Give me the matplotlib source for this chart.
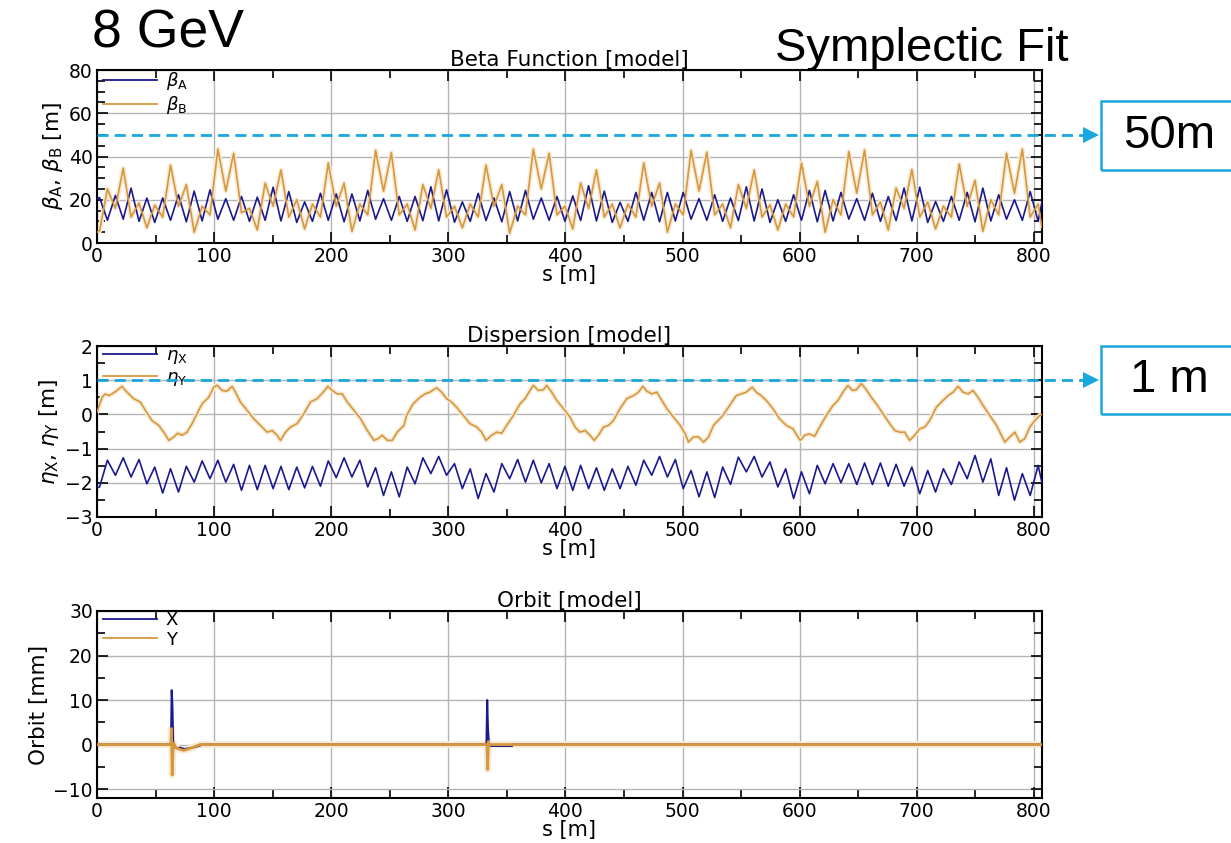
import matplotlib
matplotlib.use("Agg")
import matplotlib.pyplot as plt
from matplotlib.lines import Line2D
from matplotlib.patches import Rectangle
from matplotlib.ticker import MultipleLocator
import matplotlib.transforms as mtransforms

# ---------------- data ----------------
s_grid = [0.0, 2.2, 8.9, 15.7, 22.4, 29.1, 35.9, 42.6, 49.3, 56.1, 62.8, 69.6, 76.3, 83.0, 89.8, 96.5,
          103.2, 110.0, 116.7, 123.4, 130.2, 136.9, 143.6, 150.4, 157.1, 163.8, 170.6, 177.3, 184.0,
          190.8, 197.5, 204.3, 211.0, 217.7, 224.5, 231.2, 237.9, 244.7, 251.4, 258.1, 264.9, 271.6,
          278.3, 285.1, 291.8, 298.5, 305.3, 312.0, 318.7, 325.5, 332.2, 339.0, 345.7, 352.4, 359.2,
          365.9, 372.6, 379.4, 386.1, 392.8, 399.6, 406.3, 413.0, 419.8, 426.5, 433.2, 440.0, 446.7,
          453.4, 460.2, 466.9, 473.7, 480.4, 487.1, 493.9, 500.6, 507.3, 514.1, 520.8, 527.5, 534.3,
          541.0, 547.7, 554.5, 561.2, 567.9, 574.7, 581.4, 588.1, 594.9, 601.6, 608.4, 615.1, 621.8,
          628.6, 635.3, 642.0, 648.8, 655.5, 662.2, 669.0, 675.7, 682.4, 689.2, 695.9, 702.6, 709.4,
          716.1, 722.8, 729.6, 736.3, 743.1, 749.8, 756.5, 763.3, 770.0, 776.7, 783.5, 790.2, 796.9,
          803.7, 807.0]

beta_a = [20.5,
          21, 10.5, 22, 11, 25.4, 10, 20.8, 9.5, 20.8, 10.5, 22.3, 9.8, 24, 10.2, 24.6, 11, 20.5, 10.5, 21.5, 10,
          21.2, 10.5, 25.8, 10.2, 23.8, 9.5, 19, 10, 23, 10.5, 22.7, 9.8, 22.7, 10.2, 24.3, 11, 20.5, 10.5, 21.5, 10,
          21.5, 10.3, 26, 10.2, 24.6, 9.6, 19, 10, 23, 10.4, 20.8, 9.8, 23.8, 10.2, 24.3, 11, 20.8, 10.5, 21.5, 10,
          21.8, 10.4, 26.5, 10.2, 24, 9.5, 18.8, 10, 23.4, 10.5, 23.4, 9.8, 23.4, 10.2, 23.4, 11, 20.5, 10.5, 22.3, 10,
          20.8, 10.4, 26, 10.2, 25, 9.5, 20, 10, 22.3, 10.5, 24.3, 9.8, 24.3, 10.2, 23.4, 11, 20.5, 10.5, 23, 10,
          21.5, 10.4, 25.4, 10.2, 25.8, 9.5, 19.2, 10, 21.5, 10.5, 23.4, 9.8, 25.4, 10.2, 22.3, 11, 20, 10.5, 23.8, 10,
          19]

beta_b = [5,
          5.5, 25, 16, 34.6, 12, 18.5, 7, 17.5, 12, 36, 17, 27, 5, 17, 13, 43.4, 24, 41.5, 14, 16,
          6, 27.7, 17, 33.8, 12, 20, 6.5, 18, 12, 37, 17, 27.7, 5.4, 18, 13, 42.8, 24, 41.8, 13, 18,
          6, 27, 16, 33.8, 12, 17, 7, 18, 12, 36, 17, 27, 4.6, 17, 13, 43.4, 25, 41.5, 13, 17,
          6.5, 27.7, 16, 33.8, 12, 18, 7, 18, 12, 37, 17, 27.7, 5, 18, 13, 42.8, 24, 42, 13, 18,
          7, 27, 16, 33.8, 12, 17.7, 6, 18, 12, 37, 17, 28.5, 5, 20, 13, 42.3, 23, 43, 13, 19,
          6, 25.4, 16, 34, 12, 19, 6.5, 17, 12, 36.5, 17, 29, 5.4, 20, 13, 41.5, 23, 43.4, 12, 18,
          7]

eta_x = [-2.15,
         -2.12, -1.34, -1.78, -1.27, -1.83, -1.32, -2.03, -1.54, -2.30, -1.59, -2.27, -1.52, -1.98, -1.36, -1.88, -1.34, -1.98, -1.46, -2.22, -1.49,
         -2.20, -1.49, -2.17, -1.52, -2.20, -1.54, -2.15, -1.52, -2.10, -1.36, -1.85, -1.27, -1.83, -1.34, -2.12, -1.56, -2.37, -1.68, -2.41, -1.54,
         -2.03, -1.27, -1.73, -1.23, -1.78, -1.44, -2.17, -1.59, -2.46, -1.73, -2.27, -1.44, -1.88, -1.32, -1.98, -1.34, -2.00, -1.44, -2.17, -1.52,
         -2.22, -1.49, -2.17, -1.56, -2.22, -1.59, -2.17, -1.52, -2.07, -1.34, -1.78, -1.23, -1.83, -1.32, -2.17, -1.64, -2.41, -1.68, -2.43, -1.54,
         -2.05, -1.25, -1.68, -1.23, -1.83, -1.39, -2.12, -1.59, -2.46, -1.68, -2.32, -1.49, -2.03, -1.44, -2.00, -1.44, -2.05, -1.42, -2.05, -1.42,
         -2.10, -1.46, -2.10, -1.54, -2.32, -1.64, -2.27, -1.59, -2.05, -1.39, -1.88, -1.20, -1.98, -1.30, -2.37, -1.56, -2.51, -1.73, -2.37, -1.49,
         -2.00]

eta_y_s = [0, 4.3, 7.1, 10, 12.8, 17.1, 21.4, 24.2, 27.1, 31.3, 37, 41.3, 47, 52.7, 57, 61.3, 65.5, 68.9,
           72.6, 76.9, 81.2, 85.5, 89.7, 95.4, 99.7, 102.6, 106.8, 111.1, 115.4, 118.2, 122.5, 128.2,
           133.9, 141, 145.3, 149.6, 153.8, 156.7, 161, 165.2, 170.9, 176.6, 182.3, 188, 193.2, 197.2,
           200.9, 205.1, 209.4, 213.7, 219.4, 225.1, 230.8, 236.5, 239.9, 243.6, 247.9, 252.1, 256.4,
           262.1, 264.4, 270, 275.8, 280, 284.3, 290, 294.3, 298.6, 302.8, 307, 312.8, 318.5, 324.2,
           328.5, 332.2, 337, 341.3, 345.6, 349.9, 355.6, 361.3, 365.5, 369.8, 372.6, 376.9, 381.2,
           384, 388.3, 392.6, 398.3, 404, 408.3, 412.5, 416.8, 421.1, 424.5, 428.2, 432.5, 436.8, 441,
           446.7, 452.4, 458.1, 462.4, 466.1, 469.5, 473.8, 478.1, 482.3, 486.6, 492.3, 498, 502.3,
           505.1, 509.4, 513.7, 518, 522.2, 526.5, 534.5, 540.2, 545.9, 550.1, 554.4, 559.5, 563,
           567.2, 571.5, 577.2, 582.9, 588.6, 594.3, 598.6, 600.6, 604.3, 608.5, 612.8, 617.1, 622.8,
           628.5, 632.8, 637, 641.3, 645, 648.4, 652.7, 656.4, 661.3, 665.5, 671.2, 676.9, 681.2,
           685.5, 689.7, 694, 698.3, 702.6, 706.8, 711.1, 716.8, 722.5, 726.8, 731.1, 735.3, 739.6,
           743.9, 748.1, 752.4, 756.7, 762.4, 768.1, 772.4, 775.2, 779.5, 783.8, 788, 792.3, 796.6,
           800.9, 805.1, 807]
eta_y = [0.07, 0.5, 0.6, 0.55, 0.6, 0.7, 0.82, 0.7, 0.6, 0.46, 0.36, 0.12, -0.18, -0.32, -0.52, -0.76,
         -0.66, -0.55, -0.61, -0.52, -0.27, 0.02, 0.31, 0.5, 0.8, 0.85, 0.7, 0.68, 0.82, 0.65, 0.36,
         0.12, -0.13, -0.37, -0.52, -0.47, -0.61, -0.76, -0.52, -0.37, -0.27, 0.02, 0.36, 0.46, 0.65,
         0.82, 0.7, 0.6, 0.6, 0.36, 0.12, -0.13, -0.47, -0.76, -0.71, -0.61, -0.76, -0.76, -0.52,
         -0.32, -0.03, 0.31, 0.5, 0.6, 0.65, 0.78, 0.65, 0.46, 0.36, 0.21, -0.03, -0.27, -0.37, -0.52,
         -0.76, -0.61, -0.52, -0.55, -0.32, -0.03, 0.31, 0.46, 0.7, 0.85, 0.7, 0.72, 0.85, 0.65, 0.41,
         0.17, -0.08, -0.37, -0.52, -0.47, -0.61, -0.76, -0.61, -0.37, -0.32, -0.18, 0.17, 0.46, 0.55,
         0.65, 0.82, 0.68, 0.6, 0.65, 0.41, 0.17, -0.08, -0.32, -0.57, -0.81, -0.66, -0.66, -0.81,
         -0.66, -0.32, -0.03, 0.26, 0.55, 0.6, 0.65, 0.8, 0.65, 0.55, 0.41, 0.17, -0.13, -0.32, -0.42,
         -0.66, -0.76, -0.61, -0.57, -0.64, -0.37, -0.03, 0.26, 0.41, 0.65, 0.85, 0.7, 0.72, 0.9, 0.75,
         0.5, 0.31, 0.02, -0.27, -0.47, -0.52, -0.52, -0.76, -0.61, -0.42, -0.37, -0.18, 0.21, 0.41,
         0.55, 0.65, 0.82, 0.65, 0.6, 0.7, 0.5, 0.26, -0.03, -0.32, -0.61, -0.81, -0.66, -0.52, -0.81,
         -0.71, -0.37, -0.18, -0.03, 0.0]

orbit_x_s = [0, 63.2, 63.8, 64.4, 65.0, 66.0, 68.0, 71.0, 75.0, 79.0, 83.0, 87.0, 90.0,
             332.6, 333.2, 333.8, 334.6, 336.0, 345.0, 354.5, 355.0, 807]
orbit_x = [0.0, 0.0, 12.2, 8.5, 0.8, -0.5, -0.8, -0.7, -1.0, -0.8, -0.6, -0.3, 0.0,
           0.0, 10.0, 4.0, 0.3, -0.3, -0.3, -0.3, 0.0, 0.0]
orbit_y_s = [0, 63.0, 63.6, 64.2, 64.8, 65.6, 67.0, 70.0, 74.0, 78.0, 83.0, 88.0,
             333.0, 333.6, 334.2, 334.8, 336.0, 807]
orbit_y = [0.0, 0.0, 3.6, -6.8, -2.0, 0.3, -0.6, -1.0, -1.3, -1.0, -0.5, 0.0,
           0.0, -5.6, 0.7, -0.2, 0.0, 0.0]

# ---------------- style ----------------
W, H = 1231, 843
BLUE = "#1a1a8e"
ORANGE = "#d6973e"
HALO = "#f7ebd6"
CYAN = "#1aa7dd"
GRID = "#b4b4b4"
plt.rcParams['font.family'] = ['DejaVu Sans']

fig = plt.figure(figsize=(W / 100, H / 100), dpi=100)


def px_axes(left, top, right, bottom):
    return fig.add_axes([left / W, 1 - bottom / H, (right - left) / W, (bottom - top) / H])


def style(ax, ylim, ymaj, ymin, title, ylabel):
    ax.set_xlim(0, 807)
    ax.set_ylim(*ylim)
    ax.xaxis.set_major_locator(MultipleLocator(100))
    ax.xaxis.set_minor_locator(MultipleLocator(50))
    ax.yaxis.set_major_locator(MultipleLocator(ymaj))
    ax.yaxis.set_minor_locator(MultipleLocator(ymin))
    ax.tick_params(which='both', direction='in', top=True, right=True, labelsize=13.5, width=1.2)
    ax.tick_params(which='major', length=8, pad=3)
    ax.tick_params(which='minor', length=6)
    ax.grid(True, which='major', color=GRID, lw=1.0)
    ax.set_axisbelow(True)
    for sp in ax.spines.values():
        sp.set_linewidth(1.5)
    ax.set_title(title, fontsize=15.5, pad=2)
    ax.set_xlabel("s [m]", fontsize=15, labelpad=-1)
    ax.set_ylabel(ylabel, fontsize=15.5, labelpad=3)


def legend(ax, labels):
    h1 = Line2D([], [], color=BLUE, lw=1.3)
    h2 = Line2D([], [], color=ORANGE, lw=1.3)
    ax.legend([h1, h2], labels, loc='upper left', bbox_to_anchor=(0.004, 1.01), frameon=False,
              fontsize=13, handlelength=3.0, handletextpad=0.5, labelspacing=0.1, borderpad=0.1,
              borderaxespad=0.0)


def dashed_arrow(ax, yval):
    tr = mtransforms.blended_transform_factory(fig.transFigure, ax.transData)
    ln = Line2D([97 / W, 1088 / W], [yval, yval], transform=tr, color=CYAN, lw=2.0,
                dashes=(4, 2.2), zorder=10)
    fig.add_artist(ln)
    mk = Line2D([1091 / W], [yval], transform=tr, marker='>', markersize=11, color=CYAN,
                markeredgewidth=0, zorder=10)
    fig.add_artist(mk)


def box(top, bottom, text):
    r = Rectangle((1101 / W, 1 - bottom / H), 200 / W, (bottom - top) / H, transform=fig.transFigure,
                  fill=False, edgecolor=CYAN, lw=1.8)
    fig.add_artist(r)
    fig.text(1169 / W, 1 - (top + bottom) / 2 / H, text, ha='center', va='center', fontsize=34,
             family='Liberation Sans')


# ---- Beta ----
ax1 = px_axes(97, 70, 1042, 243)
ax1.plot(s_grid, beta_b, color=HALO, lw=3.5, zorder=2, solid_joinstyle='round')
ax1.plot(s_grid, beta_a, color=BLUE, lw=1.2, zorder=3)
ax1.plot(s_grid, beta_b, color=ORANGE, lw=1.2, zorder=4)
style(ax1, (0, 80), 20, 5, "Beta Function [model]", r"$\beta_\mathrm{A}$, $\beta_\mathrm{B}$ [m]")
legend(ax1, [r"$\beta_\mathrm{A}$", r"$\beta_\mathrm{B}$"])
dashed_arrow(ax1, 50)
box(101, 170, "50m")

# ---- Dispersion ----
ax2 = px_axes(97, 346, 1042, 517)
ax2.plot(eta_y_s, eta_y, color=HALO, lw=3.5, zorder=2)
ax2.plot(s_grid, eta_x, color=BLUE, lw=1.2, zorder=3)
ax2.plot(eta_y_s, eta_y, color=ORANGE, lw=1.2, zorder=4)
style(ax2, (-3, 2), 1, 0.5, "Dispersion [model]", r"$\eta_\mathrm{X}$, $\eta_\mathrm{Y}$ [m]")
legend(ax2, [r"$\eta_\mathrm{X}$", r"$\eta_\mathrm{Y}$"])
dashed_arrow(ax2, 1)
box(346, 414, "1 m")

# ---- Orbit ----
ax3 = px_axes(97, 611, 1042, 798)
ax3.plot(orbit_y_s, orbit_y, color=HALO, lw=5, zorder=2)
ax3.plot(orbit_x_s, orbit_x, color=BLUE, lw=1.5, zorder=3)
ax3.plot(orbit_y_s, orbit_y, color=ORANGE, lw=2.0, zorder=4)
style(ax3, (-12, 30), 10, 5, "Orbit [model]", "Orbit [mm]")
legend(ax3, ["X", "Y"])

# ---- big annotations ----
fig.text(92 / W, 1 - 48 / H, "8 GeV", ha='left', va='baseline', fontsize=38.5, family='Liberation Sans')
fig.text(775 / W, 1 - 61 / H, "Symplectic Fit", ha='left', va='baseline', fontsize=34,
         family='Liberation Sans')

fig.savefig("out.png", dpi=100)
